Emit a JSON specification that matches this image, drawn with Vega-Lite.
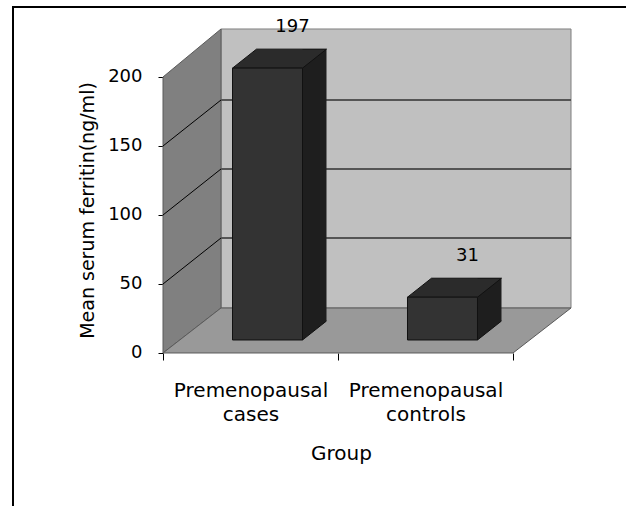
{
  "$schema": "https://vega.github.io/schema/vega-lite/v6.json",
  "width": 613,
  "height": 499,
  "autosize": {"type": "none"},
  "padding": {"left": 13, "top": 7, "right": 0, "bottom": 0},
  "background": "white",
  "config": {
    "font": "DejaVu Sans",
    "view": {"stroke": "#000000", "strokeWidth": 2, "strokeDash": [613, 1112, 499]}
  },
  "data": {"values": [
    {"group": "Premenopausal cases", "ferritin": 197},
    {"group": "Premenopausal controls", "ferritin": 31}
  ]},
  "encoding": {
    "x": {
      "field": "group", "type": "nominal", "title": "Group",
      "scale": {"type": "band", "domain": ["Premenopausal cases", "Premenopausal controls"], "paddingInner": 0, "paddingOuter": 0.75143, "align": 0.570342, "round": false},
      "axis": {"orient": "bottom", "offset": -153, "domain": false, "grid": false, "tickBand": "extent", "tickSize": 7, "tickColor": "#000000", "labelAngle": 0, "labelFontSize": 20, "labelColor": "#000000", "labelPadding": 20, "labelLineHeight": 24, "labelExpr": "split(datum.label, ' ')", "titleFontSize": 20, "titleFontWeight": "normal", "titleColor": "#000000", "titleX": 328, "titleY": 100, "titleBaseline": "middle"}
    },
    "y": {
      "field": "ferritin", "type": "quantitative", "title": "Mean serum ferritin(ng/ml)",
      "scale": {"domain": [-110.87, 250.72], "nice": false, "zero": false},
      "axis": {"orient": "left", "offset": -150, "domain": false, "grid": false, "values": [0, 50, 100, 150, 200], "tickSize": 5, "tickColor": "#000000", "labelFontSize": 18, "labelColor": "#000000", "labelPadding": 16, "titleFontSize": 19, "titleFontWeight": "normal", "titleColor": "#000000", "titleY": 203, "titlePadding": 10}
    }
  },
  "layer": [
    {
      "data": {"values": [{"v": 0}]},
      "mark": {"type": "point", "shape": "M-29.5,-45 L-29.5,-324 L320.5,-324 L320.5,-45 Z", "size": 4, "filled": true, "fill": "#c0c0c0", "stroke": "#7f7f7f", "strokeWidth": 1, "opacity": 1},
      "encoding": {"x": {"datum": "Premenopausal cases"}, "y": {"field": "v", "type": "quantitative"}}
    },
    {
      "data": {"values": [{"v": 0}]},
      "mark": {"type": "point", "shape": "M-87.5,0 L-87.5,-276 L-29.5,-324 L-29.5,-45 Z", "size": 4, "filled": true, "fill": "#808080", "stroke": "#5a5a5a", "strokeWidth": 1, "opacity": 1},
      "encoding": {"x": {"datum": "Premenopausal cases"}, "y": {"field": "v", "type": "quantitative"}}
    },
    {
      "data": {"values": [{"v": 0}]},
      "mark": {"type": "point", "shape": "M-87.5,0 L-29.5,-45 L320.5,-45 L262.5,0 Z", "size": 4, "filled": true, "fill": "#999999", "stroke": "#5a5a5a", "strokeWidth": 1, "opacity": 1},
      "encoding": {"x": {"datum": "Premenopausal cases"}, "y": {"field": "v", "type": "quantitative"}}
    },
    {
      "data": {"values": [{"v": 50}, {"v": 100}, {"v": 150}]},
      "mark": {"type": "point", "shape": "M-29.5,-46 L320.5,-46", "size": 4, "filled": false, "stroke": "#555555", "strokeWidth": 2, "opacity": 1},
      "encoding": {"x": {"datum": "Premenopausal cases"}, "y": {"field": "v", "type": "quantitative"}}
    },
    {
      "data": {"values": [{"v": 50}, {"v": 100}, {"v": 150}]},
      "mark": {"type": "point", "shape": "M-87.5,0 L-29.5,-46", "size": 4, "filled": false, "stroke": "#000000", "strokeWidth": 1, "opacity": 1},
      "encoding": {"x": {"datum": "Premenopausal cases"}, "y": {"field": "v", "type": "quantitative"}}
    },
    {
      "mark": {"type": "bar", "width": 24, "xOffset": 64, "yOffset": -32, "y2Offset": -13, "fill": "#1e1e1e", "strokeWidth": 0, "opacity": 1},
      "encoding": {"y2": {"datum": 0}}
    },
    {
      "mark": {"type": "point", "shape": "M52,-13 L76,-32 L77.5,-32 L77.5,-12 L52,-12 Z", "size": 4, "filled": true, "fill": "#999999", "strokeWidth": 0, "opacity": 1},
      "encoding": {"y": {"datum": 0}}
    },
    {
      "mark": {"type": "point", "shape": "M52,-13 L76,-32", "size": 4, "filled": false, "stroke": "#111111", "strokeWidth": 1, "opacity": 1},
      "encoding": {"y": {"datum": 0}}
    },
    {
      "mark": {"type": "point", "shape": "M-18,-13 L52,-13 L76,-32 L6,-32 Z", "size": 4, "filled": true, "fill": "#2b2b2b", "stroke": "#111111", "strokeWidth": 1, "opacity": 1}
    },
    {
      "mark": {"type": "bar", "width": 70, "xOffset": 17, "yOffset": -13, "y2Offset": -13, "fill": "#333333", "stroke": "#111111", "strokeWidth": 1, "opacity": 1},
      "encoding": {"y2": {"datum": 0}}
    },
    {
      "mark": {"type": "text", "dx": 42, "dy": -54, "fontSize": 18, "color": "#000000", "baseline": "middle", "align": "center"},
      "encoding": {"text": {"field": "ferritin", "type": "quantitative"}}
    }
  ]
}
